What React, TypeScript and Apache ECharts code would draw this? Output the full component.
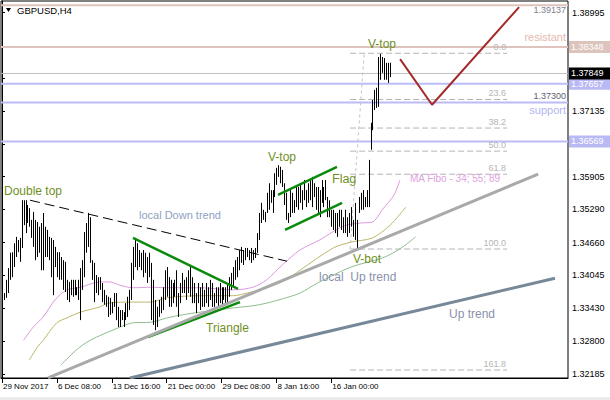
import React, { useEffect, useRef } from 'react';
import * as echarts from 'echarts';

// ---- price bars (H4 GBPUSD), high / low per bar ----
const highs = [
  1.3377, 1.3371, 1.3396, 1.3418, 1.3447, 1.3448, 1.3465, 1.3477, 1.3471, 1.3475,
  1.3546, 1.3546, 1.3546, 1.3537, 1.3531, 1.3509, 1.3524, 1.3509, 1.3505, 1.3496,
  1.3503, 1.3522, 1.3496, 1.3490, 1.3477, 1.3475, 1.3471, 1.3458, 1.3448, 1.3448,
  1.3439, 1.3433, 1.3430, 1.3396, 1.3392, 1.3396, 1.3396, 1.3396, 1.3382, 1.3396,
  1.3418, 1.3433, 1.3486, 1.3503, 1.3522, 1.3514, 1.3433, 1.3428, 1.3405, 1.3401,
  1.3401, 1.3390, 1.3377, 1.3367, 1.3364, 1.3362, 1.3354, 1.3371, 1.3371, 1.3345,
  1.3339, 1.3339, 1.3335, 1.3352, 1.3364, 1.3377, 1.3428, 1.3458, 1.3475, 1.3465,
  1.3452, 1.3447, 1.3452, 1.3447, 1.3439, 1.3447, 1.3428, 1.3396, 1.3358, 1.3345,
  1.3358, 1.3364, 1.3382, 1.3414, 1.3420, 1.3401, 1.3396, 1.3390, 1.3396, 1.3414,
  1.3371, 1.3390, 1.3409, 1.3396, 1.3401, 1.3414, 1.3420, 1.3401, 1.3390, 1.3371,
  1.3390, 1.3382, 1.3390, 1.3377, 1.3390, 1.3382, 1.3396, 1.3390, 1.3371, 1.3382,
  1.3382, 1.3390, 1.3382, 1.3382, 1.3382, 1.3390, 1.3401, 1.3409, 1.3420, 1.3433,
  1.3439, 1.3452, 1.3458, 1.3452, 1.3456, 1.3456, 1.3452, 1.3456, 1.3452, 1.3456,
  1.3484, 1.3522, 1.3541, 1.3528, 1.3524, 1.3560, 1.3578, 1.3565, 1.3565, 1.3597,
  1.3607, 1.3612, 1.3609, 1.3603, 1.3578, 1.3560, 1.3522, 1.3565, 1.3560, 1.3546,
  1.3571, 1.3571, 1.3578, 1.3565, 1.3584, 1.3565, 1.3578, 1.3584, 1.3590, 1.3578,
  1.3571, 1.3571, 1.3565, 1.3584, 1.3571, 1.3584, 1.3552, 1.3546, 1.3528, 1.3528,
  1.3522, 1.3522, 1.3528, 1.3528, 1.3514, 1.3528, 1.3514, 1.3522, 1.3533, 1.3509,
  1.3541, 1.3509, 1.3552, 1.3560, 1.3565, 1.3552, 1.3565, 1.3622, 1.3692, 1.3735,
  1.3754, 1.3758, 1.3816, 1.3822, 1.3816, 1.3814, 1.3805, 1.3805, 1.3805,
];
const lows = [
  1.3335, 1.3358, 1.3362, 1.3371, 1.3396, 1.3401, 1.3420, 1.3439, 1.3448, 1.3430,
  1.3456, 1.3499, 1.3484, 1.3503, 1.3496, 1.3475, 1.3458, 1.3433, 1.3439, 1.3447,
  1.3414, 1.3414, 1.3439, 1.3439, 1.3433, 1.3401, 1.3367, 1.3420, 1.3401, 1.3396,
  1.3396, 1.3377, 1.3373, 1.3358, 1.3354, 1.3367, 1.3364, 1.3367, 1.3367, 1.3358,
  1.3320, 1.3377, 1.3401, 1.3447, 1.3458, 1.3428, 1.3396, 1.3354, 1.3371, 1.3367,
  1.3377, 1.3354, 1.3349, 1.3345, 1.3326, 1.3330, 1.3333, 1.3345, 1.3320, 1.3307,
  1.3307, 1.3320, 1.3307, 1.3320, 1.3326, 1.3339, 1.3358, 1.3396, 1.3420, 1.3414,
  1.3420, 1.3414, 1.3401, 1.3409, 1.3390, 1.3401, 1.3320, 1.3311, 1.3301, 1.3307,
  1.3326, 1.3333, 1.3339, 1.3358, 1.3364, 1.3345, 1.3345, 1.3352, 1.3364, 1.3345,
  1.3326, 1.3352, 1.3371, 1.3371, 1.3358, 1.3371, 1.3364, 1.3352, 1.3352, 1.3333,
  1.3352, 1.3339, 1.3345, 1.3345, 1.3352, 1.3345, 1.3358, 1.3345, 1.3345, 1.3352,
  1.3345, 1.3352, 1.3345, 1.3358, 1.3352, 1.3352, 1.3364, 1.3377, 1.3382, 1.3396,
  1.3401, 1.3414, 1.3428, 1.3424, 1.3433, 1.3439, 1.3433, 1.3428, 1.3433, 1.3437,
  1.3447, 1.3471, 1.3503, 1.3509, 1.3505, 1.3522, 1.3528, 1.3541, 1.3522, 1.3552,
  1.3575, 1.3590, 1.3578, 1.3571, 1.3537, 1.3509, 1.3503, 1.3514, 1.3522, 1.3522,
  1.3533, 1.3528, 1.3541, 1.3528, 1.3546, 1.3533, 1.3541, 1.3546, 1.3533, 1.3552,
  1.3528, 1.3522, 1.3514, 1.3541, 1.3533, 1.3546, 1.3514, 1.3514, 1.3496, 1.3490,
  1.3484, 1.3477, 1.3496, 1.3490, 1.3484, 1.3484, 1.3477, 1.3484, 1.3496, 1.3477,
  1.3471, 1.3452, 1.3522, 1.3528, 1.3528, 1.3533, 1.3533, 1.3533, 1.3641, 1.3678,
  1.3716, 1.3720, 1.3722, 1.3773, 1.3786, 1.3773, 1.3773, 1.3767, 1.3778,
];

// ---- axes ----
const xTickIdx = [0, 28, 56, 84, 112, 140, 168];
const xTickLabels = ['29 Nov 2017', '6 Dec 08:00', '13 Dec 16:00', '21 Dec 00:00', '29 Dec 08:00', '8 Jan 16:00', '16 Jan 00:00'];
const yTickValues = [1.38995, 1.38365, 1.3775, 1.37135, 1.3652, 1.35905, 1.3529, 1.3466, 1.34045, 1.3343, 1.328, 1.32185];
// tick labels that stay visible (the others are hidden behind the price tags)
const yLabelValues = [1.38995, 1.37135, 1.35905, 1.3529, 1.3466, 1.34045, 1.3343, 1.328, 1.32185];

// ---- moving averages (MA Fibo 34 / 55 / 89), sampled at bar index ----
const ma34Idx = [11, 16, 21, 27, 33, 40, 50, 55, 60, 67, 76, 84, 101, 118, 128, 135, 143, 152, 162, 174, 183, 189, 194, 200, 203];
const ma34 = [1.3282, 1.3307, 1.3326, 1.3358, 1.3377, 1.3382, 1.3392, 1.3392, 1.3386, 1.3381, 1.3382, 1.3381, 1.3381, 1.3377, 1.3382, 1.3396, 1.3424, 1.3452, 1.3471, 1.3497, 1.3503, 1.3505, 1.3528, 1.3556, 1.3584];
const ma55Idx = [14, 18, 21, 28, 33, 40, 50, 54, 67, 76, 84, 101, 118, 125, 135, 145, 152, 169, 178, 189, 198, 206];
const ma55 = [1.3245, 1.3269, 1.3282, 1.3315, 1.3324, 1.3335, 1.3345, 1.3352, 1.3354, 1.3354, 1.3362, 1.3366, 1.3366, 1.3371, 1.3381, 1.3396, 1.3414, 1.3456, 1.3467, 1.3475, 1.3499, 1.3533];
const ma89Idx = [30, 38, 45, 59, 67, 76, 84, 92, 101, 110, 118, 128, 135, 143, 152, 161, 178, 194, 202, 207, 211];
const ma89 = [1.3235, 1.3264, 1.3282, 1.3305, 1.3315, 1.3316, 1.3324, 1.3330, 1.3335, 1.3339, 1.3343, 1.3347, 1.3352, 1.3360, 1.3371, 1.3390, 1.3420, 1.3437, 1.3452, 1.3465, 1.3477];

// ---- drawn objects (bar index, price) ----
const downTrend = [[14.3, 1.3546], [145.4, 1.3431]];
const triUpper = [[66.8, 1.3475], [120.4, 1.3379]];
const triLower = [[74.5, 1.3288], [121.4, 1.3354]];
const flagUpper = [[140.8, 1.3556], [170.9, 1.3609]];
const flagLower = [[144.4, 1.3490], [173.5, 1.3541]];
const localUp = [[23.5, 1.3211], [273.5, 1.3595]];
const upTrend = [[65.3, 1.3211], [282.1, 1.3399]];
const projection = [[203.1, 1.3812], [219.4, 1.3726], [263.8, 1.3910]];

// ---- horizontal levels ----
const topLevel = 1.39137;
const resistLevel = 1.38348;
const lastPrice = 1.37849;
const level2 = 1.37657;
const supportLevel = 1.373;
const level3 = 1.36569;

// ---- fibonacci retracement ----
const fibHigh = 1.3823;
const fibLow = 1.3454;
const fibStartIdx = 177.6;
const fibTopIdx = 184.8;
const fibEndIdx = 257.7;
const fibLevels = [0, 23.6, 38.2, 50, 61.8, 100, 161.8];
const fibLabels = ['0.0', '23.6', '38.2', '50.0', '61.8', '100.0', '161.8'];

const FONT = "'Liberation Sans', Arial, sans-serif";
const OLIVE = '#6f8f1f';
const PINK = '#dfc3bd';
const LAV = '#bcbcf7';

const X_MIN = -0.5;
const X_MAX = 288.75;
const Y_MIN = 1.32109;
const Y_MAX = 1.39215;

export default function App() {
  const ref = useRef<HTMLDivElement>(null);
  useEffect(() => {
    if (!ref.current) return;
    const chart = echarts.init(ref.current, null, { renderer: 'svg' });

    const ln = (data: any[], color: string, width: number, z: number, type: any = 'solid', smooth: any = false) => ({
      type: 'line', data, symbol: 'none', silent: true, smooth, z,
      lineStyle: { color, width, type }, animation: false,
    });
    const hline = (p: number, color: string, width: number) => ln([[X_MIN, p], [X_MAX, p]], color, width, 1);

    const fibPrice = (lv: number) => fibHigh - (fibHigh - fibLow) * lv / 100;

    const series: any[] = [
      hline(topLevel, PINK, 2),
      hline(resistLevel, PINK, 2),
      hline(lastPrice, '#c0c0c0', 1),
      hline(level2, LAV, 2),
      hline(supportLevel, LAV, 2),
      hline(level3, LAV, 2),
      ...fibLevels.map((lv) => ln([[fibStartIdx, fibPrice(lv)], [fibEndIdx, fibPrice(lv)]], '#b4b4b4', 1, 1, [6, 3])),
      ln([[fibStartIdx, fibLow], [fibTopIdx, fibHigh]], '#c4c4c4', 1, 1, [3, 3]),
      ln(ma34Idx.map((x, i) => [x, ma34[i]]), '#dd99dd', 1, 2, 'solid', 0.3),
      ln(ma55Idx.map((x, i) => [x, ma55[i]]), '#bdb76b', 1, 2, 'solid', 0.3),
      ln(ma89Idx.map((x, i) => [x, ma89[i]]), '#8fbc8f', 1, 2, 'solid', 0.3),
      {
        type: 'custom', z: 3, silent: true, animation: false,
        data: highs.map((h, i) => [i, h, lows[i]]),
        encode: { x: 0, y: [1, 2] },
        renderItem: (params: any, api: any) => {
          const i = api.value(0);
          const t = api.coord([i, api.value(1)]);
          const b = api.coord([i, api.value(2)]);
          const x = Math.round(t[0]) + 0.5;
          return { type: 'line', shape: { x1: x, y1: t[1], x2: x, y2: b[1] }, style: { stroke: '#000', lineWidth: 1 } };
        },
      },
      ln(downTrend, '#000', 1, 4, [10, 5]),
      ln(triUpper, '#0b8a0b', 2.5, 4),
      ln(triLower, '#0b8a0b', 2.5, 4),
      ln(flagUpper, '#0b8a0b', 2.5, 4),
      ln(flagLower, '#0b8a0b', 2.5, 4),
      ln(localUp, '#a9a9a9', 3, 4),
      ln(upTrend, '#778899', 3, 4),
      ln(projection, '#a52a2a', 2, 4),
    ];

    chart.setOption({
      animation: false,
      backgroundColor: '#fff',
      grid: { left: 1, right: 42, top: 1, bottom: 22, show: true, borderColor: '#000', borderWidth: 1, backgroundColor: '#fff' },
      xAxis: {
        type: 'value', min: X_MIN, max: X_MAX,
        splitLine: { show: false },
        axisLine: { onZero: false, lineStyle: { color: '#000', width: 1 } },
        axisTick: { show: true, customValues: xTickIdx, length: 5, lineStyle: { color: '#000' } },
        axisLabel: {
          customValues: xTickIdx,
          formatter: (v: number) => xTickLabels[xTickIdx.indexOf(Math.round(v))] ?? '',
          align: 'left', fontSize: 8, color: '#000', fontFamily: FONT, margin: 4, padding: [0, 0, 0, 1],
        },
      },
      yAxis: {
        type: 'value', position: 'right', min: Y_MIN, max: Y_MAX, scale: true,
        splitLine: { show: false },
        axisLine: { show: true, lineStyle: { color: '#000', width: 1 } },
        axisTick: { show: true, customValues: yTickValues, length: 3, lineStyle: { color: '#000' } },
        axisLabel: {
          customValues: yLabelValues,
          formatter: (v: number) => v.toFixed(5),
          fontSize: 9, color: '#000', fontFamily: FONT, margin: 4,
        },
      },
      series,
    });

    const py = (p: number) => chart.convertToPixel({ yAxisIndex: 0 }, p) as number;
    const pxX = (i: number) => chart.convertToPixel({ xAxisIndex: 0 }, i) as number;

    const txt = (text: string, x: number, y: number, color: string, size: number, align = 'left') => ({
      type: 'text', x, y, z: 100, silent: true,
      style: { text, fill: color, fontSize: size, fontFamily: FONT, align, verticalAlign: 'middle' },
    });
    const tag = (p: number, bg: string) => {
      const y = py(p);
      return [
        { type: 'rect', z: 100, silent: true, shape: { x: 569, y: y - 6, width: 41, height: 12 }, style: { fill: bg } },
        txt(p.toFixed(5), 571, y, '#fff', 9),
      ];
    };

    const fibRight = pxX(fibEndIdx) - 1;
    const elements: any[] = [
      { type: 'polygon', z: 100, silent: true, shape: { points: [[6, 8], [11, 8], [8.5, 12]] }, style: { fill: '#000' } },
      txt('GBPUSD,H4', 17, 10, '#000', 9.5),
      txt('Double top', 4, 191, OLIVE, 12),
      txt('V-top', 268, 157, OLIVE, 12),
      txt('V-top', 368, 44, OLIVE, 12),
      txt('Flag', 332, 179, OLIVE, 12.5),
      txt('Triangle', 206, 328, OLIVE, 12),
      txt('V-bot', 353, 259, OLIVE, 12),
      txt('local Down trend', 139, 215, '#8ea2c2', 11),
      txt('local  Up trend', 319, 277, '#8a92aa', 12),
      txt('Up trend', 449, 314, '#8a92aa', 12),
      txt('MA Fibo - 34; 55; 89', 410, 178, '#e0a2e0', 10),
      txt('resistant', 566, py(resistLevel) - 10, '#e6b8b0', 11, 'right'),
      txt(topLevel.toFixed(5), 566, py(topLevel) + 5, '#7a8090', 9, 'right'),
      txt(supportLevel.toFixed(5), 566, py(supportLevel) - 7, '#5a6070', 9, 'right'),
      txt('support', 566, py(supportLevel) + 7, '#b4b4f0', 11, 'right'),
      ...fibLevels.map((lv, k) => txt(fibLabels[k], fibRight, py(fibPrice(lv)) - 6, '#b4b4b4', 9, 'right')),
      ...tag(resistLevel, '#dcc4bd'),
      ...tag(level3, '#b9b9f3'),
      ...tag(level2, '#b9b9f3'),
      ...tag(lastPrice, '#000'),
      { type: 'rect', z: 100, silent: true, shape: { x: 0, y: 397, width: 610, height: 3 }, style: { fill: '#ececec' } },
    ];
    chart.setOption({ graphic: { elements } });

    return () => chart.dispose();
  }, []);

  return <div ref={ref} style={{ position: 'fixed', left: 0, top: 0, width: 610, height: 400, background: '#fff' }} />;
}
